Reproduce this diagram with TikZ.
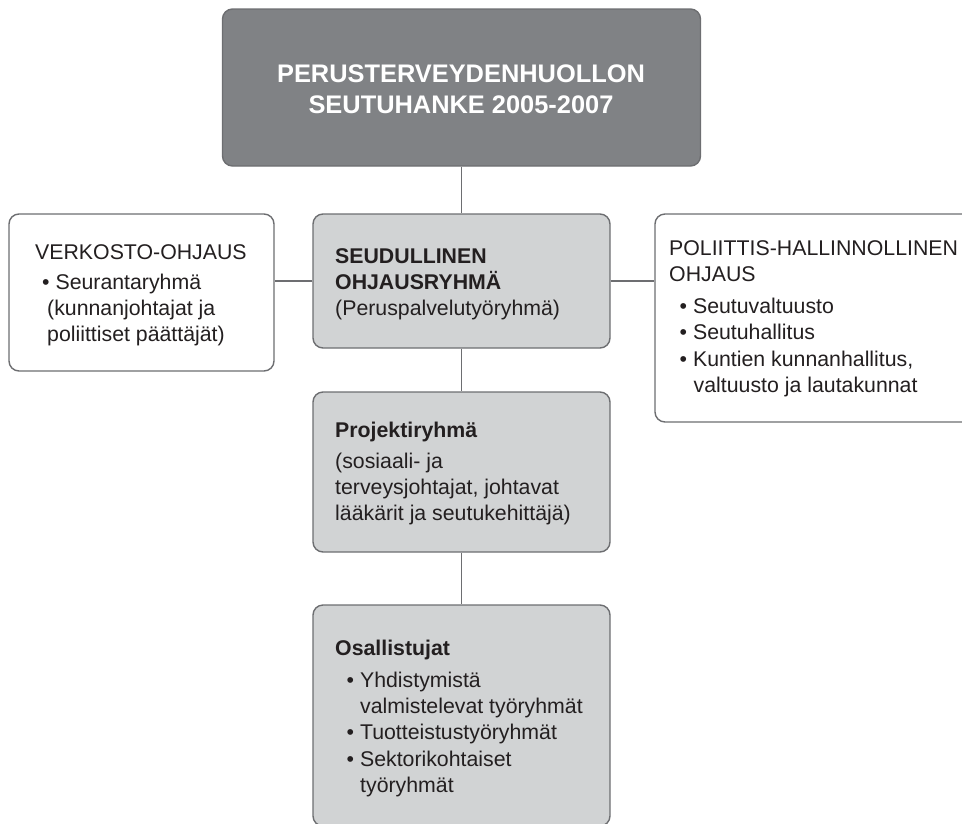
\documentclass[tikz,border=0pt]{standalone}
\usepackage{fontspec}
\setmainfont{Liberation Sans}
\definecolor{darkfill}{HTML}{808285}
\definecolor{lightfill}{HTML}{D1D3D4}
\definecolor{edge}{HTML}{6D6E71}
\definecolor{ink}{HTML}{231F20}
\newcommand{\bodyfont}{\fontsize{21.3}{26.3}\selectfont}
\newcommand{\titlefont}{\fontsize{25.4}{31}\selectfont\bfseries}
\begin{document}
\begin{tikzpicture}[x=1pt,y=-1pt,
  boxbase/.style={rectangle, rounded corners=10pt, line width=1.4pt, draw=edge, inner sep=0pt},
  darkbox/.style={boxbase, fill=darkfill},
  lightbox/.style={boxbase, fill=lightfill},
  whitebox/.style={boxbase, fill=white},
  link/.style={draw=edge, line width=1.4pt},
  txt/.style={anchor=base west, inner sep=0pt, font=\bodyfont, text=ink}]
\useasboundingbox (0,0) rectangle (962,823);

% boxes
\node[darkbox, minimum width=478pt, minimum height=157pt] (top) at (461.5,87.5) {};
\node[lightbox, minimum width=297pt, minimum height=134pt] (seud) at (461.5,281) {};
\node[whitebox, minimum width=265pt, minimum height=157pt] (verk) at (141.5,292.5) {};
\node[whitebox, minimum width=320pt, minimum height=208pt] (poli) at (815,318) {};
\node[lightbox, minimum width=297pt, minimum height=160pt] (proj) at (461.5,472) {};
\node[lightbox, minimum width=297pt, minimum height=221pt] (osal) at (461.5,715.5) {};

% connectors
\draw[link] (top.south) -- (seud.north);
\draw[link] (seud.west) -- (seud.west -| verk.east);
\draw[link] (seud.east) -- (seud.east -| poli.west);
\draw[link] (seud.south) -- (proj.north);
\draw[link] (proj.south) -- (osal.north);

% texts
\node[anchor=base, inner sep=0pt, font=\titlefont, text=white] (toptxt) at (461,82)
  {\begin{tabular}[t]{@{}c@{}}PERUSTERVEYDENHUOLLON\\SEUTUHANKE 2005-2007\end{tabular}};

\node[txt] (seudtxt) at (335,263)
  {\begin{tabular}[t]{@{}l@{}}\textbf{SEUDULLINEN}\\\textbf{OHJAUSRYHMÄ}\\(Peruspalvelutyöryhmä)\end{tabular}};

\node[txt] (verktxt) at (35,259)
  {\begin{tabular}[t]{@{}l@{}}VERKOSTO-OHJAUS\\[4pt]
   \hspace*{7pt}• Seurantaryhmä\\
   \hspace*{12pt}(kunnanjohtajat ja\\
   \hspace*{12pt}poliittiset päättäjät)\end{tabular}};

\node[txt] (politxt) at (669,255)
  {\begin{tabular}[t]{@{}l@{}}POLIITTIS-HALLINNOLLINEN\\OHJAUS\\[6pt]
   \hspace*{10.5pt}• Seutuvaltuusto\\
   \hspace*{10.5pt}• Seutuhallitus\\
   \hspace*{10.5pt}• Kuntien kunnanhallitus,\\
   \hspace*{24.5pt}valtuusto ja lautakunnat\end{tabular}};

\node[txt] (projtxt) at (335,437)
  {\begin{tabular}[t]{@{}l@{}}\textbf{Projektiryhmä}\\[5pt]
   (sosiaali- ja\\
   terveysjohtajat, johtavat\\
   lääkärit ja seutukehittäjä)\end{tabular}};

\node[txt] (osaltxt) at (335,655)
  {\begin{tabular}[t]{@{}l@{}}\textbf{Osallistujat}\\[6pt]
   \hspace*{11.5pt}• Yhdistymistä\\
   \hspace*{25pt}valmistelevat työryhmät\\
   \hspace*{11.5pt}• Tuotteistustyöryhmät\\
   \hspace*{11.5pt}• Sektorikohtaiset\\
   \hspace*{25pt}työryhmät\end{tabular}};
\end{tikzpicture}
\end{document}
